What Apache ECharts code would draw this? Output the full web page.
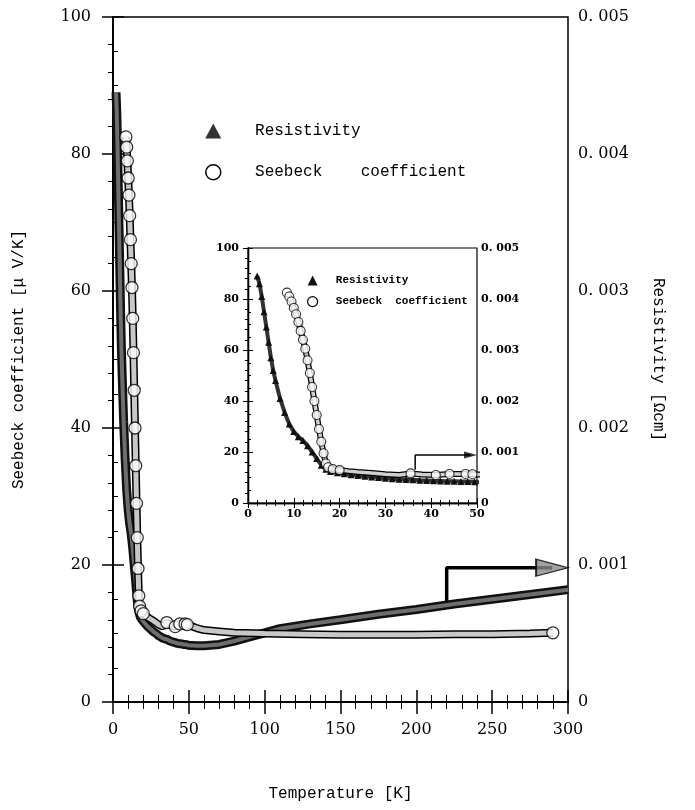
<!DOCTYPE html>
<html>
<head>
<meta charset="utf-8">
<script src="https://cdn.jsdelivr.net/npm/echarts@6/dist/echarts.min.js"></script>
<style>
  html, body { margin: 0; padding: 0; background: #fff; }
  #chart { width: 695px; height: 810px; }
</style>
</head>
<body>
<div id="chart"></div>
<script>
// resistivity (T in K, rho in ohm cm)
const rhoT = [2, 2.5, 3, 3.5, 4, 4.5, 5, 5.5, 6, 7, 8, 9, 10, 11, 12, 13, 14, 15, 16, 17, 18, 19.5, 21, 22.5, 24, 25.5, 27, 28.5, 30, 31.5, 33, 34.5, 36, 37.5, 39, 40.5, 42, 43.5, 45, 46.5, 48, 49.5, 55, 60, 70, 80, 90, 100, 110, 130, 150, 175, 200, 225, 250, 275, 300];
const rhoVal = [0.00445, 0.0043, 0.00405, 0.00375, 0.00345, 0.00315, 0.00285, 0.0026, 0.0024, 0.00205, 0.001775, 0.00155, 0.0014, 0.0013, 0.001225, 0.001125, 0.001, 0.000875, 0.00074, 0.00066, 0.00062, 0.000595, 0.000575, 0.000555, 0.00054, 0.000525, 0.00051, 0.0005, 0.000485, 0.000475, 0.000465, 0.00046, 0.000455, 0.000445, 0.00044, 0.000435, 0.00043, 0.000425, 0.000425, 0.00042, 0.00042, 0.000415, 0.00041, 0.00041, 0.00042, 0.000445, 0.000475, 0.000505, 0.000535, 0.00057, 0.0006, 0.00064, 0.000675, 0.000715, 0.00075, 0.000785, 0.00082];

// Seebeck coefficient (uV/K)
const seebT = [8.5, 9, 9.5, 10, 10.5, 11, 11.5, 12, 12.5, 13, 13.5, 14, 14.5, 15, 15.5, 16, 16.5, 17, 17.5, 18.5, 20, 22, 24, 27, 30, 33, 35.5, 38, 41, 44, 47.5, 49, 50, 55, 60, 70, 80, 100, 125, 150, 175, 200, 225, 250, 275, 290];
const seebVal = [82.5, 81, 79, 76.5, 74, 71, 67.5, 64, 60.5, 56, 51, 45.5, 40, 34.5, 29, 24, 19.5, 15.5, 14, 13.3, 12.9, 12.5, 12.2, 11.8, 11.3, 11, 11.6, 11.2, 11, 11.4, 11.4, 11.3, 11.2, 10.8, 10.5, 10.3, 10.1, 10, 9.9, 9.8, 9.8, 9.8, 9.9, 9.9, 10, 10.1];
// points that show up as separate open circles
const seebCircle = [1, 1, 1, 1, 1, 1, 1, 1, 1, 1, 1, 1, 1, 1, 1, 1, 1, 1, 1, 1, 1, 0, 0, 0, 0, 0, 1, 0, 1, 1, 1, 1, 0, 0, 0, 0, 0, 0, 0, 0, 0, 0, 0, 0, 0, 1];

// axis-pointer arrows (x in K, y on the left scale)
const arrowMainT = [220, 220, 289.5];
const arrowMainY = [14.6, 19.6, 19.6];
const arrowInsetT = [36.5, 36.5, 48.6];
const arrowInsetY = [13, 18.8, 18.8];

const rhoData = rhoT.map((t, i) => [t, rhoVal[i]]);
const seebData = seebT.map((t, i) => [t, seebVal[i]]);
const seebDots = seebData.filter((d, i) => seebCircle[i]);

const SERIF = "DejaVu Serif";
const MONO = "Liberation Mono";

function resLabel(v) {
  return v === 0 ? "0" : v.toFixed(3).replace(".", ". ");
}

function xAxisDef(grid, max, pos, big) {
  return {
    type: "value", gridIndex: grid, position: pos, min: 0, max: max, interval: max / 5 > 20 ? 50 : 10,
    axisLine: { show: true, lineStyle: { color: "#000", width: big ? 2 : 1.3 } },
    axisTick: { show: true, inside: true, length: big ? 12 : 5, lineStyle: { color: "#000", width: big ? 1.5 : 1 } },
    minorTick: { show: true, splitNumber: 5, length: big ? 7 : 3, lineStyle: { color: "#000", width: 1 } },
    splitLine: { show: false },
    axisLabel: pos === "bottom" ? {
      show: true, color: "#000", fontFamily: SERIF,
      fontSize: big ? 16 : 11, fontWeight: big ? "normal" : "bold", margin: big ? 20 : 6
    } : { show: false }
  };
}

function yAxisDef(grid, pos, right, big) {
  return {
    type: "value", gridIndex: grid, position: pos, min: 0,
    max: right ? 0.005 : 100, interval: right ? 0.001 : 20,
    axisLine: { show: true, lineStyle: { color: "#000", width: big ? 2 : 1.3 } },
    axisTick: { show: true, inside: true, length: big ? 11 : 5, lineStyle: { color: "#000", width: big ? 1.5 : 1 } },
    minorTick: { show: true, splitNumber: right ? 5 : 4, length: big ? 5 : 3, lineStyle: { color: "#000", width: 1 } },
    splitLine: { show: false },
    axisLabel: {
      show: true, color: "#000", fontFamily: SERIF,
      fontSize: big ? 16 : 11, fontWeight: big ? "normal" : "bold",
      margin: big ? (right ? 10 : 22) : (right ? 4 : 9),
      formatter: right ? resLabel : null
    }
  };
}

const chart = echarts.init(document.getElementById("chart"), null, { renderer: "canvas" });

const xMain = xAxisDef(0, 300, "bottom", true);
xMain.name = "Temperature [K]";
xMain.nameLocation = "middle";
xMain.nameGap = 84;
xMain.nameTextStyle = { fontFamily: MONO, fontSize: 16, color: "#000" };

const yLeft = yAxisDef(0, "left", false, true);
yLeft.name = "Seebeck coefficient [μ V/K]";
yLeft.nameLocation = "middle";
yLeft.nameRotate = 90;
yLeft.nameGap = 86;
yLeft.nameTextStyle = { fontFamily: MONO, fontSize: 16, color: "#000" };

const yRight = yAxisDef(0, "right", true, true);
yRight.name = "Resistivity [Ωcm]";
yRight.nameLocation = "middle";
yRight.nameRotate = -90;
yRight.nameGap = 82;
yRight.nameTextStyle = { fontFamily: MONO, fontSize: 16, color: "#000" };

const openCircle = { color: "#fff", borderColor: "#000", borderWidth: 1.3 };

chart.setOption({
  animation: false,
  backgroundColor: "#fff",
  grid: [
    { left: 113, top: 17, right: 127, bottom: 108, show: true, borderColor: "#000", borderWidth: 1.5 },
    { left: 248, top: 248, width: 229, height: 255, show: true, borderColor: "#000", borderWidth: 1.2, backgroundColor: "#fff" }
  ],
  xAxis: [xMain, xAxisDef(0, 300, "top", true), xAxisDef(1, 50, "bottom", false), xAxisDef(1, 50, "top", false)],
  yAxis: [yLeft, yRight, yAxisDef(1, "left", false, false), yAxisDef(1, "right", true, false)],
  legend: [
    {
      orient: "vertical", left: 200, top: 118, itemWidth: 16, itemHeight: 15, itemGap: 25,
      selectedMode: false,
      textStyle: { fontFamily: MONO, fontSize: 16, color: "#000" },
      formatter: n => n === "Resistivity" ? "   Resistivity" : "   Seebeck    coefficient",
      data: [
        { name: "Resistivity", icon: "triangle", itemStyle: { color: "#333" } },
        { name: "Seebeck coefficient", icon: "circle", itemStyle: { color: "#fff", borderColor: "#000", borderWidth: 1.5 } }
      ]
    },
    {
      orient: "vertical", left: 302, top: 270, itemWidth: 10, itemHeight: 10, itemGap: 10,
      selectedMode: false,
      textStyle: { fontFamily: MONO, fontSize: 11, fontWeight: "bold", color: "#000" },
      formatter: n => n === "Resistivity" ? "  Resistivity" : "  Seebeck  coefficient",
      data: [
        { name: "Resistivity", icon: "triangle", itemStyle: { color: "#111" } },
        { name: "Seebeck coefficient", icon: "circle", itemStyle: { color: "#fff", borderColor: "#000", borderWidth: 1.2 } }
      ]
    }
  ],
  series: [
    // main plot
    { name: "Resistivity", type: "line", xAxisIndex: 0, yAxisIndex: 1, data: rhoData, symbol: "none",
      lineStyle: { color: "#111", width: 9 }, z: 3 },
    { name: "Resistivity", type: "line", xAxisIndex: 0, yAxisIndex: 1, data: rhoData, symbol: "none",
      lineStyle: { color: "#6e6e6e", width: 4 }, z: 4 },
    { name: "Seebeck coefficient", type: "line", xAxisIndex: 0, yAxisIndex: 0, data: seebData, symbol: "none",
      lineStyle: { color: "#000", width: 8 }, z: 5 },
    { name: "Seebeck coefficient", type: "line", xAxisIndex: 0, yAxisIndex: 0, data: seebData, symbol: "none",
      lineStyle: { color: "#c8c8c8", width: 5 }, z: 6 },
    { name: "Seebeck coefficient", type: "scatter", xAxisIndex: 0, yAxisIndex: 0, data: seebDots,
      symbol: "circle", symbolSize: 12, itemStyle: openCircle, z: 7 },
    { type: "line", xAxisIndex: 0, yAxisIndex: 0, data: arrowMainT.map((t, i) => [t, arrowMainY[i]]),
      symbol: "none", lineStyle: { color: "#000", width: 3.5 }, z: 8 },
    { type: "scatter", xAxisIndex: 0, yAxisIndex: 0, data: [[arrowMainT[2], arrowMainY[2]]],
      symbol: "triangle", symbolRotate: -90, symbolSize: [17, 32],
      itemStyle: { color: "#8a8a8a", borderColor: "#000", borderWidth: 1.5 }, z: 9 },

    // inset
    { name: "Resistivity", type: "line", xAxisIndex: 2, yAxisIndex: 3, data: rhoData,
      symbol: "triangle", symbolSize: 7, showAllSymbol: true,
      itemStyle: { color: "#111" }, lineStyle: { color: "#333", width: 4 }, z: 3 },
    { name: "Seebeck coefficient", type: "line", xAxisIndex: 2, yAxisIndex: 2, data: seebData, symbol: "none",
      lineStyle: { color: "#000", width: 6 }, z: 5 },
    { name: "Seebeck coefficient", type: "line", xAxisIndex: 2, yAxisIndex: 2, data: seebData, symbol: "none",
      lineStyle: { color: "#d0d0d0", width: 3.5 }, z: 6 },
    { name: "Seebeck coefficient", type: "scatter", xAxisIndex: 2, yAxisIndex: 2, data: seebDots,
      symbol: "circle", symbolSize: 9, itemStyle: { color: "#fff", borderColor: "#000", borderWidth: 1.1 }, z: 7 },
    { type: "line", xAxisIndex: 2, yAxisIndex: 2, data: arrowInsetT.map((t, i) => [t, arrowInsetY[i]]),
      symbol: "none", lineStyle: { color: "#000", width: 1.5 }, z: 8 },
    { type: "scatter", xAxisIndex: 2, yAxisIndex: 2, data: [[arrowInsetT[2], arrowInsetY[2]]],
      symbol: "triangle", symbolRotate: -90, symbolSize: [7, 13],
      itemStyle: { color: "#000" }, z: 9 }
  ]
});
</script>
</body>
</html>
